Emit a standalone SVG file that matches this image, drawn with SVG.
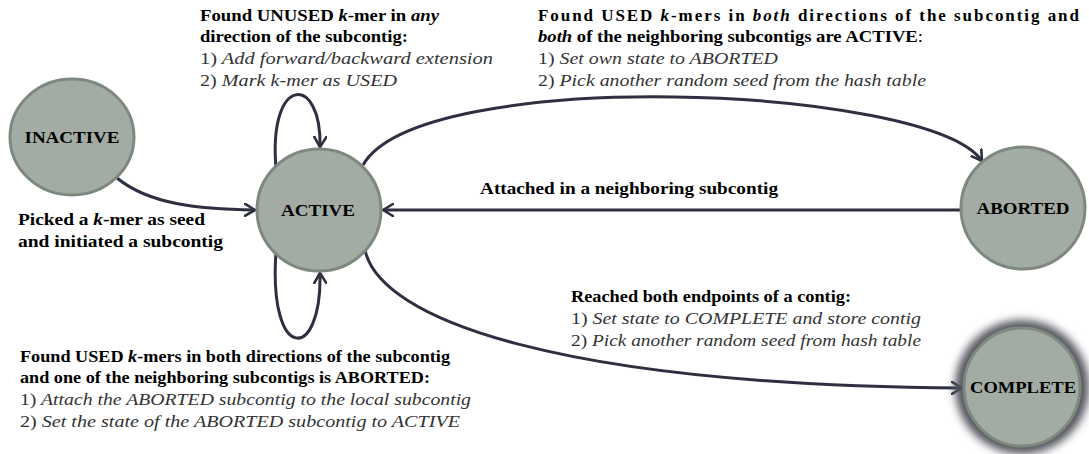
<svg xmlns="http://www.w3.org/2000/svg" width="1089" height="454" viewBox="0 0 1089 454">
<defs>
<style>
.node{fill:#a3aca4;stroke:#7d887e;stroke-width:3}
.lbl{font-family:"Liberation Serif",serif;font-weight:bold;font-size:17px;fill:#000;text-anchor:middle}
.b{font-family:"Liberation Serif",serif;font-weight:bold;font-size:17px;fill:#000}
.i{font-family:"Liberation Serif",serif;font-style:italic;font-size:17px;fill:#333}
.n{font-style:normal}
.e{fill:none;stroke:#2e2f40;stroke-width:3}
</style>
<marker id="arr" viewBox="0 0 12 14" refX="11" refY="7" markerWidth="12" markerHeight="14" markerUnits="userSpaceOnUse" orient="auto">
<path d="M1,1 L11,7 L1,13" fill="none" stroke="#2e2f40" stroke-width="2.6" stroke-linecap="round" stroke-linejoin="round"/>
</marker>
<filter id="glow" x="-40%" y="-40%" width="180%" height="180%">
<feGaussianBlur stdDeviation="4"/>
</filter>
</defs>
<rect width="1089" height="454" fill="#fff"/>
<g id="connectors">
<path class="e" d="M117,178 C150,205 200,209 255,210" marker-end="url(#arr)"/>
<path class="e" d="M276,168 C268,74 322,74 320,147" marker-end="url(#arr)"/>
<path class="e" d="M276,252 C268,363 322,363 320,273" marker-end="url(#arr)"/>
<path class="e" d="M363,165 C420,65 930,85 982,161" marker-end="url(#arr)"/>
<path class="e" d="M960,210 L383,210" marker-end="url(#arr)"/>
<path class="e" d="M365,250 C380,320 560,385 962,388" marker-end="url(#arr)"/>
</g>
<g id="INACTIVE">
<ellipse class="node" cx="72" cy="137" rx="62" ry="58"/>
<text class="lbl" x="72" y="143" textLength="95" lengthAdjust="spacingAndGlyphs">INACTIVE</text>
</g>
<g id="ACTIVE">
<ellipse class="node" cx="319" cy="210" rx="62" ry="61"/>
<text class="lbl" x="318" y="216" textLength="74" lengthAdjust="spacingAndGlyphs">ACTIVE</text>
</g>
<g id="ABORTED">
<ellipse class="node" cx="1023" cy="208" rx="62" ry="61"/>
<text class="lbl" x="1023" y="214" textLength="93" lengthAdjust="spacingAndGlyphs">ABORTED</text>
</g>
<g id="COMPLETE">
<circle cx="1022" cy="387" r="67" fill="#55565f" filter="url(#glow)"/>
<ellipse class="node" cx="1022" cy="387" rx="58" ry="59"/>
<text class="lbl" x="1023" y="393" textLength="106" lengthAdjust="spacingAndGlyphs">COMPLETE</text>
</g>
<g id="labels">
<text class="b" x="200" y="21" textLength="239" lengthAdjust="spacingAndGlyphs">Found UNUSED <tspan font-style="italic">k</tspan>-mer in <tspan font-style="italic">any</tspan></text>
<text class="b" x="200" y="42" textLength="208" lengthAdjust="spacingAndGlyphs">direction of the subcontig:</text>
<text class="i" x="200" y="64" textLength="293" lengthAdjust="spacingAndGlyphs"><tspan class="n">1)</tspan> Add forward/backward extension</text>
<text class="i" x="200" y="86" textLength="197" lengthAdjust="spacingAndGlyphs"><tspan class="n">2)</tspan> Mark k-mer as USED</text>

<text class="b" x="538" y="21" textLength="541" lengthAdjust="spacing">Found USED <tspan font-style="italic">k</tspan>-mers in <tspan font-style="italic">both</tspan> directions of the subcontig and</text>
<text class="b" x="538" y="42" textLength="385" lengthAdjust="spacingAndGlyphs"><tspan font-style="italic">both</tspan> of the neighboring subcontigs are ACTIVE<tspan font-weight="normal">:</tspan></text>
<text class="i" x="538" y="64" textLength="240" lengthAdjust="spacingAndGlyphs"><tspan class="n">1)</tspan> Set own state to ABORTED</text>
<text class="i" x="538" y="86" textLength="388" lengthAdjust="spacingAndGlyphs"><tspan class="n">2)</tspan> Pick another random seed from the hash table</text>

<text class="b" x="480" y="194" textLength="298" lengthAdjust="spacingAndGlyphs">Attached in a neighboring subcontig</text>

<text class="b" x="18" y="225" textLength="187" lengthAdjust="spacingAndGlyphs">Picked a <tspan font-style="italic">k</tspan>-mer as seed</text>
<text class="b" x="18" y="247" textLength="205" lengthAdjust="spacingAndGlyphs">and initiated a subcontig</text>

<text class="b" x="20" y="362" textLength="430" lengthAdjust="spacingAndGlyphs">Found USED <tspan font-style="italic">k</tspan>-mers in both directions of the subcontig</text>
<text class="b" x="20" y="383" textLength="410" lengthAdjust="spacingAndGlyphs">and one of the neighboring subcontigs is ABORTED:</text>
<text class="i" x="20" y="405" textLength="451" lengthAdjust="spacingAndGlyphs"><tspan class="n">1)</tspan> Attach the ABORTED subcontig to the local subcontig</text>
<text class="i" x="20" y="427" textLength="440" lengthAdjust="spacingAndGlyphs"><tspan class="n">2)</tspan> Set the state of the ABORTED subcontig to ACTIVE</text>

<text class="b" x="571" y="302" textLength="280" lengthAdjust="spacingAndGlyphs">Reached both endpoints of a contig:</text>
<text class="i" x="571" y="324" textLength="350" lengthAdjust="spacingAndGlyphs"><tspan class="n">1)</tspan> Set state to COMPLETE and store contig</text>
<text class="i" x="571" y="346" textLength="350" lengthAdjust="spacingAndGlyphs"><tspan class="n">2)</tspan> Pick another random seed from hash table</text>
</g>
</svg>
